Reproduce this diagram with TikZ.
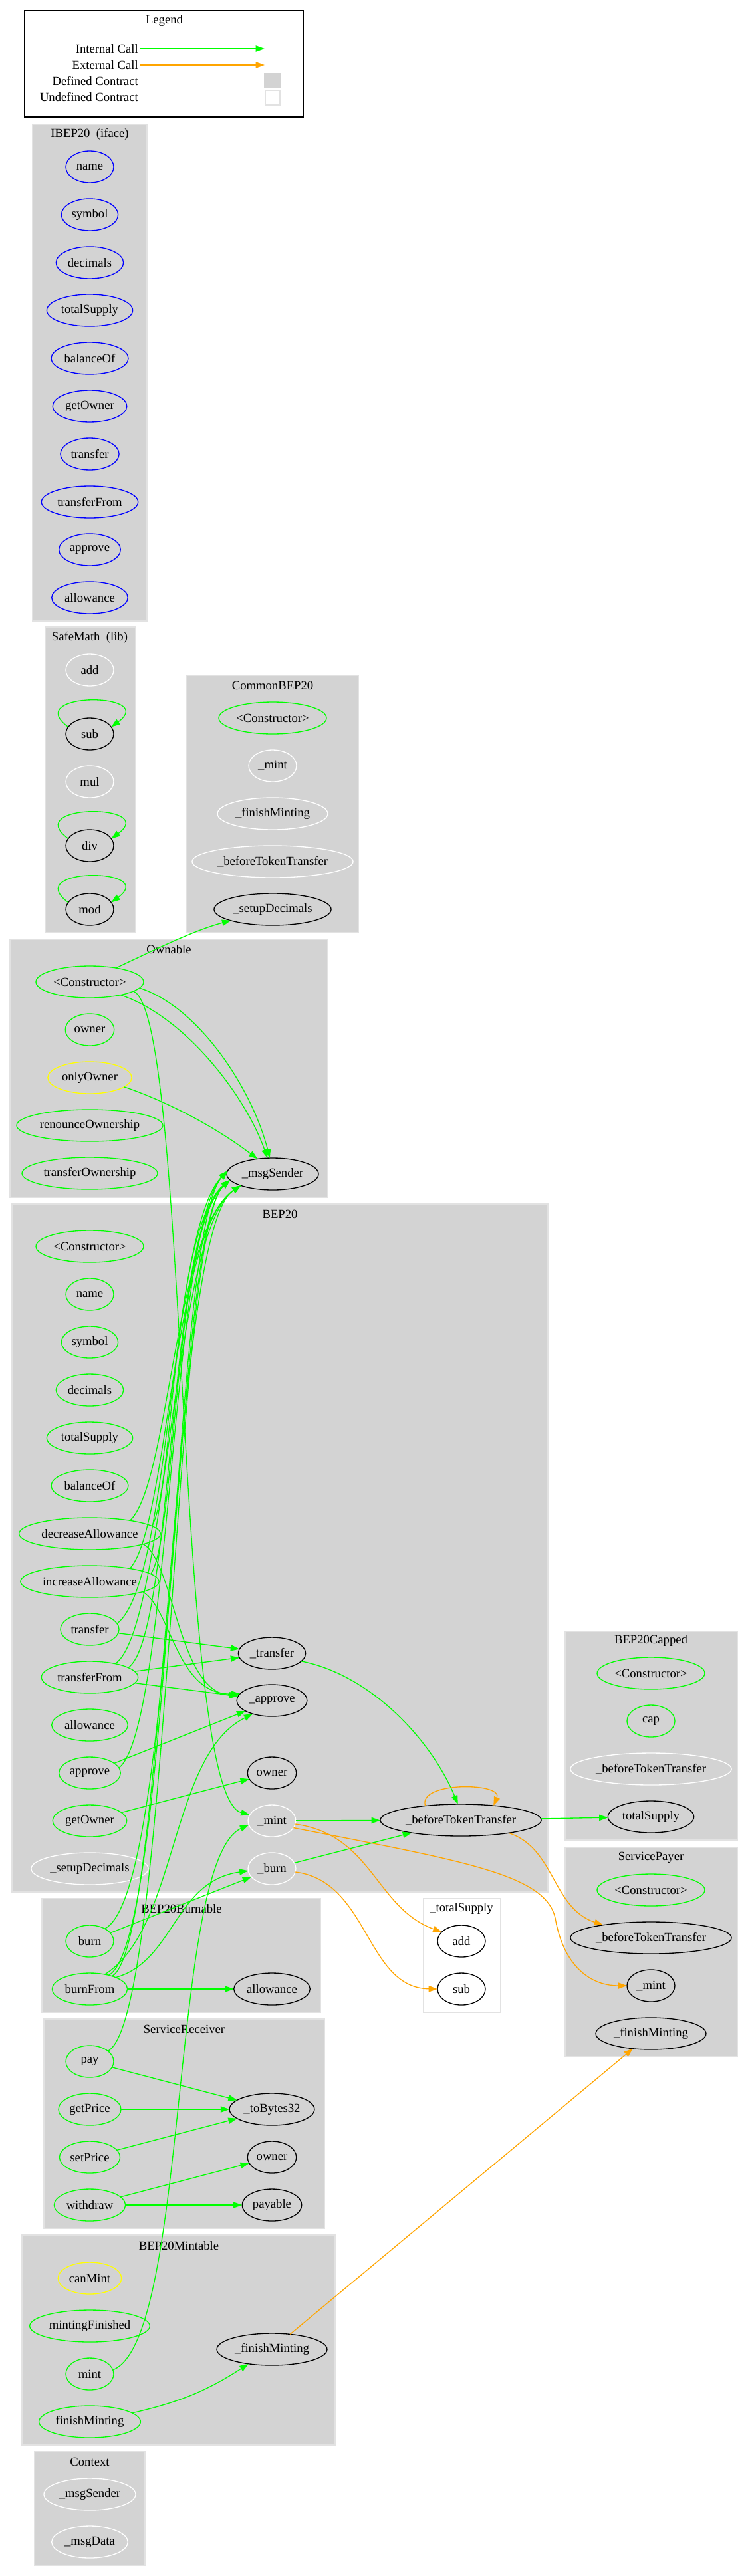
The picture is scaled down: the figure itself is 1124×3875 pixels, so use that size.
\documentclass[tikz,border=0pt]{standalone}
\usepackage{fontspec}
\setmainfont{Liberation Serif}
\usepackage{xcolor}
\usepackage{tikz}
\usetikzlibrary{shapes.geometric, arrows.meta, positioning}
\definecolor{callgreen}{HTML}{00FF00}
\definecolor{callorange}{HTML}{FFA500}
\definecolor{modyellow}{HTML}{FFFF00}
\definecolor{ifaceblue}{HTML}{0000FF}
\definecolor{clustgray}{HTML}{D3D3D3}
\definecolor{clustedge}{HTML}{E2E2E2}
\tikzset{
  fn/.style={ellipse, draw=black, line width=1pt, minimum width=54pt, minimum height=36pt, inner xsep=2pt, inner ysep=0pt, outer sep=0pt, font=\fontsize{14}{16}\selectfont},
  pub/.style={fn, draw=callgreen},
  ifn/.style={fn, draw=ifaceblue},
  modf/.style={fn, draw=modyellow},
  hid/.style={fn, draw=white},
  internal/.style={-{Triangle[length=10pt, width=7pt]}, line width=1pt, callgreen},
  external/.style={-{Triangle[length=10pt, width=7pt]}, line width=1pt, callorange},
  contract/.style={fill=clustgray, draw=clustedge, line width=1pt},
  ctitle/.style={font=\fontsize{14}{16}\selectfont, inner sep=0pt},
}

\begin{document}
\begin{tikzpicture}[x=0.75pt, y=-0.75pt, node distance=18pt]
\useasboundingbox[fill=white] (0,0) rectangle (1124,3875);

% legend
\draw[line width=1pt] (37,16) rectangle (456,176);
\node[ctitle] (lgtitle) at (247,31) {Legend};
\node[ctitle, anchor=east] (lgint) at (208,73) {Internal Call};
\node[ctitle, anchor=east] (lgext) at (208,98) {External Call};
\node[ctitle, anchor=east] (lgdef) at (208,122) {Defined Contract};
\node[ctitle, anchor=east] (lgund) at (208,146) {Undefined Contract};
\coordinate (lgi) at (398,73);
\coordinate (lge) at (398,98);
\draw[internal] ([xshift=2pt]lgint.east) -- (lgi);
\draw[external] ([xshift=2pt]lgext.east) -- (lge);
\node[fill=clustgray, minimum width=19.5pt, minimum height=17pt, inner sep=0pt] (lgdefbox) at (410,121.5) {};
\node[draw=clustedge, fill=white, line width=1pt, minimum width=16.5pt, minimum height=16.5pt, inner sep=0pt] (lgundbox) at (410,147) {};

% contracts
\draw[contract] (49,187) rectangle (221,934);
\node[ctitle] (ibtitle) at (135,202) {IBEP20\ \ (iface)};
\draw[contract] (68,943) rectangle (204,1403);
\node[ctitle] (smtitle) at (135,959) {SafeMath\ \ (lib)};
\draw[contract] (280,1016) rectangle (539,1403);
\node[ctitle] (cbtitle) at (410,1031) {CommonBEP20};
\draw[contract] (15,1413) rectangle (493,1801);
\node[ctitle] (owtitle) at (254,1428) {Ownable};
\draw[contract] (18,1811) rectangle (824,2846);
\node[ctitle] (bptitle) at (421,1826) {BEP20};
\draw[draw=clustedge, line width=1.5pt, fill=white] (637,2856) rectangle (753,3027);
\node[ctitle] (tstitle) at (694,2871) {\_totalSupply};
\draw[contract] (850,2454) rectangle (1109,2768);
\node[ctitle] (bctitle) at (979,2468) {BEP20Capped};
\draw[contract] (850,2779) rectangle (1109,3094);
\node[ctitle] (sptitle) at (979,2794) {ServicePayer};
\draw[contract] (63,2856) rectangle (482,3027);
\node[ctitle] (bbtitle) at (273,2871) {BEP20Burnable};
\draw[contract] (66,3037) rectangle (488,3352);
\node[ctitle] (srtitle) at (277,3052) {ServiceReceiver};
\draw[contract] (33,3362) rectangle (504,3678);
\node[ctitle] (mttitle) at (269,3378) {BEP20Mintable};
\draw[contract] (52,3688) rectangle (218,3859);
\node[ctitle] (cxtitle) at (135,3703) {Context};

% IBEP20
\node[ifn] (ib_name) at (135,251) {name};
\node[ifn, below=of ib_name] (ib_symbol) {symbol};
\node[ifn, below=of ib_symbol] (ib_decimals) {decimals};
\node[ifn, below=of ib_decimals] (ib_total) {totalSupply};
\node[ifn, below=of ib_total] (ib_balance) {balanceOf};
\node[ifn, below=of ib_balance] (ib_getOwner) {getOwner};
\node[ifn, below=of ib_getOwner] (ib_transfer) {transfer};
\node[ifn, below=of ib_transfer] (ib_transferFrom) {transferFrom};
\node[ifn, below=of ib_transferFrom] (ib_approve) {approve};
\node[ifn, below=of ib_approve] (ib_allowance) {allowance};

% SafeMath
\node[hid] (sm_add) at (135,1008) {add};
\node[fn, below=36pt of sm_add] (sm_sub) {sub};
\node[hid, below=of sm_sub] (sm_mul) {mul};
\node[fn, below=36pt of sm_mul] (sm_div) {div};
\node[fn, below=36pt of sm_div] (sm_mod) {mod};

% CommonBEP20
\node[pub] (cb_ctor) at (410,1080) {<Constructor>};
\node[hid, below=of cb_ctor] (cb_mint) {\_mint};
\node[hid, below=of cb_mint] (cb_finish) {\_finishMinting};
\node[hid, below=of cb_finish] (cb_before) {\_beforeTokenTransfer};
\node[fn, below=of cb_before] (cb_setup) {\_setupDecimals};

% Ownable
\node[pub] (ow_ctor) at (135,1477) {<Constructor>};
\node[pub, below=of ow_ctor] (ow_owner) {owner};
\node[modf, below=of ow_owner] (ow_only) {onlyOwner};
\node[pub, below=of ow_only] (ow_renounce) {renounceOwnership};
\node[pub, below=of ow_renounce] (ow_transfer) {transferOwnership};
\node[fn] (ow_msg) at (410,1766) {\_msgSender};

% BEP20
\node[pub] (bp_ctor) at (135,1875) {<Constructor>};
\node[pub, below=of bp_ctor] (bp_name) {name};
\node[pub, below=of bp_name] (bp_symbol) {symbol};
\node[pub, below=of bp_symbol] (bp_decimals) {decimals};
\node[pub, below=of bp_decimals] (bp_total) {totalSupply};
\node[pub, below=of bp_total] (bp_balance) {balanceOf};
\node[pub, below=of bp_balance] (bp_decr) {decreaseAllowance};
\node[pub, below=of bp_decr] (bp_incr) {increaseAllowance};
\node[pub, below=of bp_incr] (bp_transfer) {transfer};
\node[pub, below=of bp_transfer] (bp_transferFrom) {transferFrom};
\node[pub, below=of bp_transferFrom] (bp_allowance) {allowance};
\node[pub, below=of bp_allowance] (bp_approve) {approve};
\node[pub, below=of bp_approve] (bp_getOwner) {getOwner};
\node[hid, below=of bp_getOwner] (bp_setup) {\_setupDecimals};
\node[fn] (bp__transfer) at (409,2487) {\_transfer};
\node[fn] (bp__approve) at (409,2558) {\_approve};
\node[fn] (bp_owner) at (409,2667) {owner};
\node[hid, below=of bp_owner] (bp__mint) {\_mint};
\node[hid, below=of bp__mint] (bp__burn) {\_burn};
\node[fn] (bp_before) at (693,2738) {\_beforeTokenTransfer};

% _totalSupply
\node[fn] (ts_add) at (694,2920) {add};
\node[fn, below=of ts_add] (ts_sub) {sub};

% BEP20Capped
\node[pub] (bc_ctor) at (979,2517) {<Constructor>};
\node[pub, below=of bc_ctor] (bc_cap) {cap};
\node[hid, below=of bc_cap] (bc_before) {\_beforeTokenTransfer};
\node[fn, below=of bc_before] (bc_total) {totalSupply};

% ServicePayer
\node[pub] (sp_ctor) at (979,2843) {<Constructor>};
\node[fn, below=of sp_ctor] (sp_before) {\_beforeTokenTransfer};
\node[fn, below=of sp_before] (sp_mint) {\_mint};
\node[fn, below=of sp_mint] (sp_finish) {\_finishMinting};

% BEP20Burnable
\node[pub] (bb_burn) at (135,2920) {burn};
\node[pub, below=of bb_burn] (bb_burnFrom) {burnFrom};
\node[fn] (bb_allowance) at (409,2992) {allowance};

% ServiceReceiver
\node[pub] (sr_pay) at (135,3101) {pay};
\node[pub, below=of sr_pay] (sr_getPrice) {getPrice};
\node[pub, below=of sr_getPrice] (sr_setPrice) {setPrice};
\node[pub, below=of sr_setPrice] (sr_withdraw) {withdraw};
\node[fn] (sr_bytes) at (409,3173) {\_toBytes32};
\node[fn, below=of sr_bytes] (sr_owner) {owner};
\node[fn, below=of sr_owner] (sr_payable) {payable};

% BEP20Mintable
\node[modf] (mt_canMint) at (135,3427) {canMint};
\node[pub, below=of mt_canMint] (mt_finished) {mintingFinished};
\node[pub, below=of mt_finished] (mt_mint) {mint};
\node[pub, below=of mt_mint] (mt_finishMinting) {finishMinting};
\node[fn] (mt__finish) at (409,3534) {\_finishMinting};

% Context
\node[hid] (cx_msgSender) at (135,3752) {\_msgSender};
\node[hid, below=of cx_msgSender] (cx_msgData) {\_msgData};

% internal calls
\draw[internal] (sm_sub.162) .. controls +(-72,-53) and +(72,-53) .. (sm_sub.18);
\draw[internal] (sm_div.162) .. controls +(-72,-53) and +(72,-53) .. (sm_div.18);
\draw[internal] (sm_mod.162) .. controls +(-72,-53) and +(72,-53) .. (sm_mod.18);
\draw[internal] (ow_ctor.28) .. controls (230,1430) and (290,1400) .. (cb_setup.195);
\draw[internal] (ow_ctor.-7) .. controls (300,1515) and (380,1640) .. (ow_msg.100);
\draw[internal] (ow_ctor.-23) .. controls (280,1530) and (370,1650) .. (ow_msg.108);
\draw[internal] (ow_only.-15) .. controls (260,1660) and (330,1700) .. (ow_msg.135);
\draw[internal] (ow_ctor.-12) .. controls (285,1530) and (262,2700) .. (bp__mint.165);
\draw[internal] (bp_decr.18) .. controls (255,2230) and (262,1850) .. (ow_msg.200);
\draw[internal] (bp_decr.7) .. controls (262,2240) and (258,1850) .. (ow_msg.188);
\draw[internal] (bp_incr.18) .. controls (252,2300) and (260,1850) .. (ow_msg.200);
\draw[internal] (bp_incr.7) .. controls (265,2310) and (262,1850) .. (ow_msg.188);
\draw[internal] (bp_transfer.12) .. controls (258,2380) and (255,1850) .. (ow_msg.176);
\draw[internal] (bp_transferFrom.28) .. controls (250,2450) and (260,1850) .. (ow_msg.200);
\draw[internal] (bp_transferFrom.14) .. controls (262,2460) and (252,1850) .. (ow_msg.188);
\draw[internal] (bp_approve.10) .. controls (255,2600) and (258,1850) .. (ow_msg.176);
\draw[internal] (bb_burn.40) .. controls (265,2850) and (262,1850) .. (ow_msg.188);
\draw[internal] (bb_burnFrom.30) .. controls (250,2930) and (255,1850) .. (ow_msg.200);
\draw[internal] (bb_burnFrom.36) .. controls (258,2920) and (260,1850) .. (ow_msg.176);
\draw[internal] (sr_pay.30) .. controls (255,3040) and (262,1850) .. (ow_msg.188);
\draw[internal] (bp_decr.-11) .. controls (262,2350) and (268,2545) .. (bp__approve.172);
\draw[internal] (bp_incr.-11) .. controls (258,2420) and (265,2550) .. (bp__approve.168);
\draw[internal] (bp_transfer) -- (bp__transfer);
\draw[internal] (bp_transferFrom) -- (bp__transfer);
\draw[internal] (bp_transferFrom) -- (bp__approve);
\draw[internal] (bp_approve) -- (bp__approve);
\draw[internal] (bb_burnFrom.44) .. controls (268,2900) and (255,2640) .. (bp__approve.215);
\draw[internal] (bp_getOwner) -- (bp_owner);
\draw[internal] (bp__transfer.-15) .. controls (560,2520) and (650,2620) .. (bp_before.100);
\draw[internal] (bp__mint) -- (bp_before);
\draw[internal] (bp__burn) -- (bp_before);
\draw[internal] (bp_before) -- (bc_total);
\draw[internal] (mt_mint.10) .. controls (285,3520) and (255,2800) .. (bp__mint.190);
\draw[internal] (bb_burn) -- (bp__burn);
\draw[internal] (bb_burnFrom.24) .. controls (262,2950) and (262,2830) .. (bp__burn.185);
\draw[internal] (bb_burnFrom) -- (bb_allowance);
\draw[internal] (sr_pay) -- (sr_bytes);
\draw[internal] (sr_getPrice) -- (sr_bytes);
\draw[internal] (sr_setPrice) -- (sr_bytes);
\draw[internal] (sr_withdraw) -- (sr_owner);
\draw[internal] (sr_withdraw) -- (sr_payable);
\draw[internal] (mt_finishMinting) to[bend right=10] (mt__finish);

% external calls
\draw[external] (bp_before.158) .. controls +(-12,-37) and +(15,-35) .. (bp_before.24);
\draw[external] (bp__mint.-8) .. controls (560,2760) and (565,2870) .. (ts_add.155);
\draw[external] (bp__mint.-18) .. controls (700,2800) and (820,2820) .. (835,2885) .. controls (848,2960) and (890,2987) .. (sp_mint.west);
\draw[external] (bp__burn.-8) .. controls (555,2830) and (550,2990) .. (ts_sub.west);
\draw[external] (bp_before.-15) .. controls (835,2780) and (830,2870) .. (sp_before.165);
\draw[external] (mt__finish) -- (sp_finish);
\end{tikzpicture}
\end{document}
